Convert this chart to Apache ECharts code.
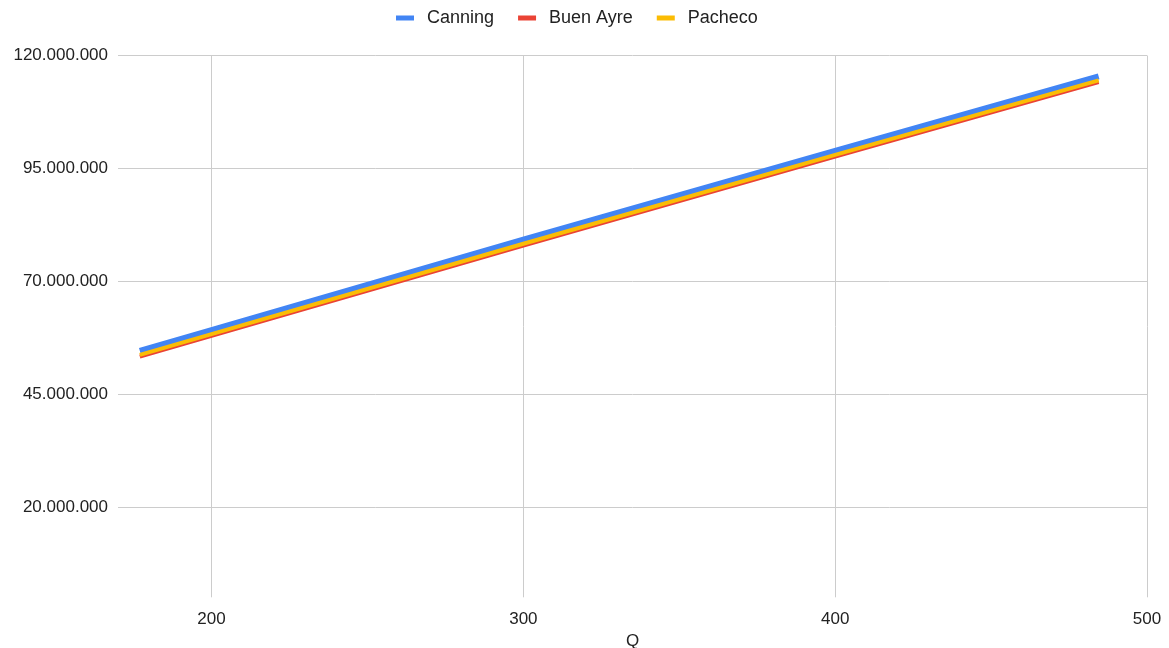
<!DOCTYPE html>
<html>
<head>
<meta charset="utf-8">
<title>Costo por Q</title>
<script src="https://cdn.jsdelivr.net/npm/echarts@6/dist/echarts.min.js"></script>
<style>
  html, body { margin: 0; padding: 0; background: #ffffff; }
  #chart { width: 1169px; height: 648px; }
</style>
</head>
<body>
<div id="chart"></div>
<script>
// Series names, in legend order
const seriesNames = ['Canning', 'Buen Ayre', 'Pacheco'];

// Q values sampled along each line
const qValues = [177, 200, 300, 400, 484.5];

// Total cost for each Q
const canning  = [54600000, 59200000, 79200000, 98900000, 115400000];
const buenAyre = [53300000, 57900000, 77900000, 97600000, 114100000];
const pacheco  = [53700000, 58300000, 78300000, 98000000, 114500000];

// Axis tick values
const xTicks = [200, 300, 400, 500];
const yTicks = [20000000, 45000000, 70000000, 95000000, 120000000];

const colors = ['#4285F4', '#EA4335', '#FBBC04'];
const widths = [6, 4, 4];

function pairs(ys) {
  return qValues.map((q, i) => [q, ys[i]]);
}

// Thousands separated with dots
function fmtDots(v) {
  return String(Math.round(v)).replace(/\B(?=(\d{3})+(?!\d))/g, '.');
}

const font = 'Arial, "Liberation Sans", sans-serif';
const chart = echarts.init(document.getElementById('chart'), null, { renderer: 'canvas' });

const allValues = [canning, buenAyre, pacheco];

chart.setOption({
  animation: false,
  color: colors,
  textStyle: { fontFamily: font },
  legend: {
    data: seriesNames,
    top: 9,
    left: 396,
    padding: 0,
    icon: 'rect',
    itemWidth: 18,
    itemHeight: 5,
    itemGap: 24,
    textStyle: { fontSize: 18, color: '#222222', fontFamily: font, padding: [0, 0, 0, 8] }
  },
  grid: {
    left: 118, right: 22, top: 55.5, bottom: 50.7,
    containLabel: false,
    outerBoundsMode: 'none'
  },
  xAxis: {
    type: 'value',
    min: 170,
    max: 500,
    name: 'Q',
    nameLocation: 'middle',
    nameGap: 30,
    nameTextStyle: { fontSize: 17, color: '#222222', fontFamily: font },
    axisLine: { show: false },
    axisTick: { show: false, customValues: xTicks },
    axisLabel: { customValues: xTicks, fontSize: 17, color: '#222222', margin: 14, fontFamily: font },
    splitLine: { show: true, lineStyle: { color: '#cccccc', width: 1 } }
  },
  yAxis: {
    type: 'value',
    min: 0,
    max: 120000000,
    axisLine: { show: false },
    axisTick: { show: false, customValues: yTicks },
    axisLabel: {
      customValues: yTicks,
      fontSize: 17,
      color: '#222222',
      margin: 10,
      fontFamily: font,
      formatter: fmtDots
    },
    splitLine: { show: true, lineStyle: { color: '#cccccc', width: 1 } }
  },
  series: seriesNames.map((name, i) => ({
    name: name,
    type: 'line',
    data: pairs(allValues[i]),
    showSymbol: false,
    symbol: 'none',
    lineStyle: { width: widths[i], color: colors[i], cap: 'butt' },
    z: 2 + i
  }))
});
</script>
</body>
</html>
